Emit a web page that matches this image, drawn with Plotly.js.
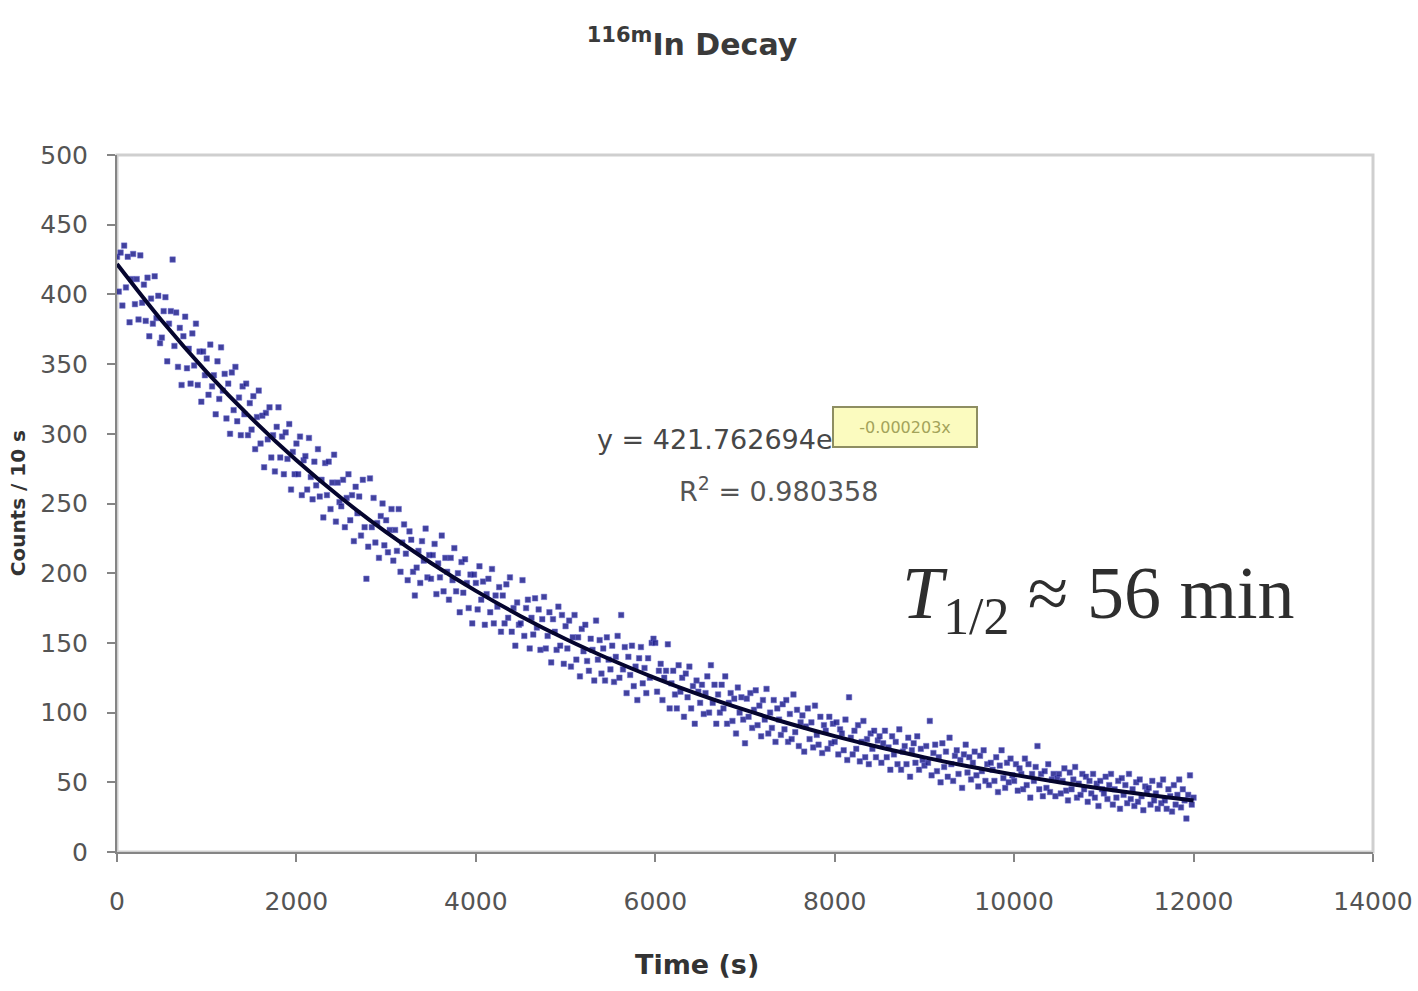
<!DOCTYPE html>
<html>
<head>
<meta charset="utf-8">
<script src="https://cdn.plot.ly/plotly-3.0.1.min.js"></script>
<style>html,body{margin:0;padding:0;background:#fff;}#chart{width:1418px;height:991px;}</style>
</head>
<body>
<div id="chart"></div>
<script>
// Sampling interval of the measurement (s)
const sampleInterval = 20;

const counts = [
  427,402,430,392,435,405,427,380,411,429,393,411,382,428,394,407,381,412,370,397,379,413,383,399,365,
  369,388,398,352,379,388,425,363,387,348,376,335,370,384,347,361,336,372,349,379,335,359,323,359,342,
  354,328,364,334,342,314,352,325,362,331,343,311,336,300,344,317,348,309,326,299,334,314,336,299,322,
  303,327,289,312,331,293,313,276,315,296,319,283,299,273,305,319,283,298,271,301,282,307,260,287,271,
  293,271,298,256,281,284,260,297,269,253,280,263,289,255,267,240,279,256,280,246,265,285,237,265,251,
  248,267,233,254,271,238,256,223,262,243,255,227,267,233,196,219,268,233,254,222,236,211,241,250,220,
  238,215,231,246,209,231,216,246,201,222,235,214,195,230,224,201,184,204,216,193,223,209,232,197,213,
  196,213,221,185,207,197,227,187,211,201,181,211,195,218,187,200,172,208,186,210,193,175,199,164,199,
  193,174,205,181,194,163,185,196,172,203,164,184,176,190,158,184,164,192,168,197,158,175,148,179,163,
  164,195,155,175,181,146,168,156,182,161,174,145,167,183,146,155,172,136,167,158,145,176,148,170,135,
  162,146,166,133,154,170,138,154,126,160,144,163,137,130,153,145,123,166,138,152,128,146,123,154,138,
  131,148,122,140,155,125,170,131,147,114,140,127,148,119,133,109,139,147,121,132,114,139,125,150,153,
  150,115,130,135,109,125,130,149,103,121,130,113,103,134,115,125,97,128,111,133,103,119,92,123,115,
  107,120,99,114,126,100,134,107,120,92,113,100,120,103,126,92,107,114,94,110,85,118,100,111,95,
  78,110,97,114,89,102,116,91,105,83,109,95,117,85,100,89,109,79,103,95,84,106,88,109,79,
  99,81,113,86,102,76,93,98,72,90,103,81,93,75,105,84,77,97,71,91,87,74,97,78,92,
  79,93,70,88,85,73,95,66,111,82,70,87,74,91,65,79,94,68,81,63,85,74,87,68,80,
  83,64,78,87,68,75,59,83,70,79,63,88,59,72,76,63,82,54,73,78,64,83,59,74,66,
  62,76,64,94,55,71,77,58,68,50,78,61,72,54,82,63,51,69,73,56,66,46,70,77,57,
  68,52,64,72,55,47,69,58,73,51,63,48,64,59,51,68,43,62,73,53,46,64,50,67,55,
  51,63,44,60,56,45,67,48,63,39,56,51,61,76,45,56,40,58,46,63,43,52,56,40,53,
  56,42,51,60,44,37,57,45,52,61,39,49,41,56,45,54,36,51,42,56,39,49,33,51,45,
  42,54,38,48,56,34,45,39,51,31,53,41,48,35,56,38,45,33,50,36,52,40,30,47,43,
  46,34,51,37,42,31,48,35,52,37,31,45,40,29,48,34,41,52,32,45,37,24,41,55,34,39
];
const times = counts.map((c, i) => i * sampleInterval);

// Exponential trendline
const fitTimes  = [0,500,1000,1500,2000,2500,3000,3500,4000,4500,5000,5500,6000,6500,7000,7500,8000,8500,9000,9500,10000,10500,11000,11500,12000];
const fitCounts = [421.8,381.1,344.3,311.1,281.0,253.9,229.4,207.3,187.3,169.2,152.8,138.1,124.8,112.7,101.9,92.0,83.1,75.1,67.9,61.3,55.4,50.0,45.2,40.9,36.9];

const xTicks = [0,2000,4000,6000,8000,10000,12000,14000];
const yTicks = [0,50,100,150,200,250,300,350,400,450,500];

const traces = [
  {
    x: times, y: counts, type: 'scatter', mode: 'markers',
    marker: {symbol: 'square', size: 5.5, color: 'rgba(32,32,140,0.85)',
             line: {width: 1, color: 'rgba(110,110,210,0.5)'}},
    hoverinfo: 'x+y', showlegend: false
  },
  {
    x: fitTimes, y: fitCounts, type: 'scatter', mode: 'lines',
    line: {color: '#05052e', width: 4, shape: 'spline'},
    hoverinfo: 'skip', showlegend: false
  }
];

const sans = 'DejaVu Sans, Arial, sans-serif';
const tickFont = {family: sans, size: 25, color: '#545454'};
const layout = {
  width: 1418, height: 991,
  margin: {l: 117, r: 45, t: 155, b: 139},
  paper_bgcolor: '#fff', plot_bgcolor: '#fff',
  showlegend: false,
  title: {
    text: '<b><sup>116m</sup>In Decay</b>',
    font: {family: sans, size: 30, color: '#3a3a3a'},
    x: 0.488, xanchor: 'center', y: 0.955, yanchor: 'middle'
  },
  xaxis: {
    range: [0, 14000], tickvals: xTicks, ticktext: xTicks.map(String),
    showgrid: false, zeroline: false,
    showline: true, linecolor: '#858585', linewidth: 2,
    ticks: 'outside', ticklen: 8, tickwidth: 2, tickcolor: '#858585',
    ticklabelstandoff: 18,
    tickfont: tickFont
  },
  yaxis: {
    range: [0, 500], tickvals: yTicks, ticktext: yTicks.map(String),
    showgrid: false, zeroline: false,
    showline: true, linecolor: '#858585', linewidth: 2,
    ticks: 'outside', ticklen: 8, tickwidth: 2, tickcolor: '#858585',
    ticklabelstandoff: 14,
    tickfont: tickFont
  },
  shapes: [
    {type: 'rect', xref: 'paper', yref: 'paper', x0: 0, x1: 1, y0: 0, y1: 1,
     line: {color: '#cfcfcf', width: 3}, layer: 'below'}
  ],
  annotations: [
    {xref: 'paper', yref: 'paper', x: 0.4618, y: -0.162, xanchor: 'center', yanchor: 'middle',
     text: '<b>Time (s)</b>', showarrow: false,
     font: {family: sans, size: 27, color: '#333'}},
    {xref: 'paper', yref: 'paper', x: -0.079, y: 0.5, xanchor: 'center', yanchor: 'middle',
     text: '<b>Counts / 10 s</b>', textangle: -90, showarrow: false,
     font: {family: sans, size: 20, color: '#333'}},
    {xref: 'x', yref: 'y', x: 5328, y: 295.6, xanchor: 'left', yanchor: 'middle',
     text: 'y = 421.762694e', showarrow: false,
     font: {family: sans, size: 27, color: '#474747'}},
    {xref: 'x', yref: 'y', x: 8783, y: 304.9, xanchor: 'center', yanchor: 'middle',
     text: '-0.000203x', showarrow: false, width: 138, height: 34,
     bgcolor: '#fbfbbf', bordercolor: '#8e8e62', borderwidth: 2, borderpad: 2,
     font: {family: sans, size: 16, color: '#a3a35a'}},
    {xref: 'x', yref: 'y', x: 7368, y: 260.4, xanchor: 'center', yanchor: 'middle',
     text: 'R<sup>2</sup> = 0.980358', showarrow: false,
     font: {family: sans, size: 27, color: '#555'}},
    {xref: 'x', yref: 'y', x: 8728, y: 182, xanchor: 'left', yanchor: 'middle',
     text: '<i>T</i><sub>1/2</sub> ≈ 56 min', showarrow: false,
     font: {family: 'Liberation Serif, Times New Roman, serif', size: 74, color: '#2e2e2e'}}
  ]
};

Plotly.newPlot('chart', traces, layout, {staticPlot: true, displayModeBar: false});
</script>
</body>
</html>
